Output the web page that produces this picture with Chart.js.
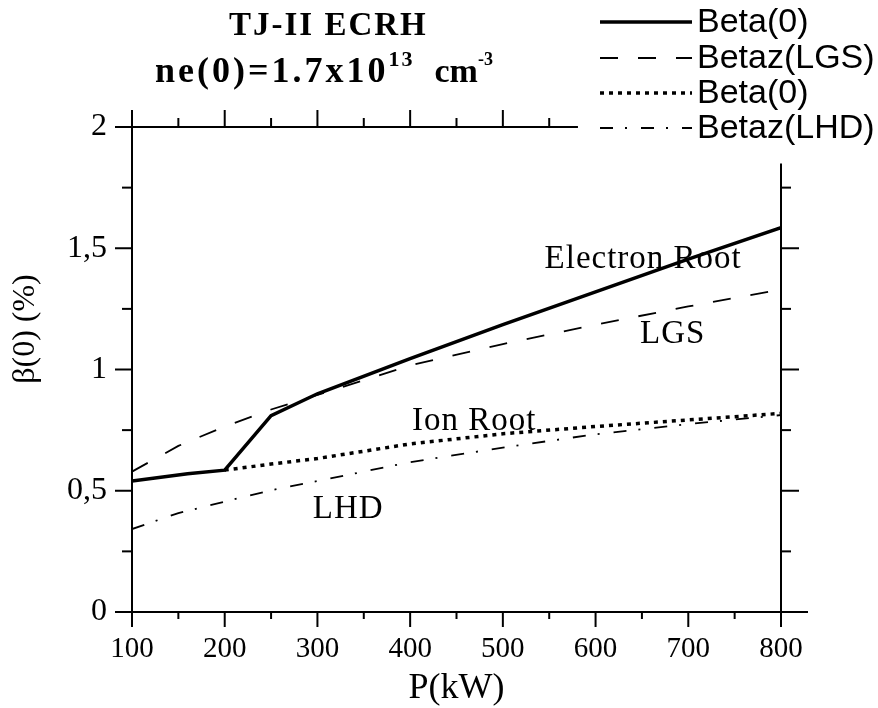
<!DOCTYPE html>
<html>
<head>
<meta charset="utf-8">
<script src="https://cdn.jsdelivr.net/npm/chart.js@4.4.0/dist/chart.umd.min.js"></script>
<style>
  html, body { margin: 0; padding: 0; background: #fff; }
  #wrap { width: 878px; height: 708px; }
</style>
</head>
<body>
<div id="wrap"><canvas id="betaChart" width="878" height="708"></canvas></div>
<script>
// P (kW) / beta(0) (%)
const electronP = [100, 160, 200, 250, 300, 400, 500, 600, 700, 800];
const electronBeta = [0.54, 0.57, 0.585, 0.81, 0.9, 1.045, 1.185, 1.32, 1.455, 1.585];

const lgsP = [100, 150, 200, 250, 300, 400, 500, 600, 700, 800];
const lgsBeta = [0.579, 0.685, 0.765, 0.835, 0.895, 1.017, 1.105, 1.185, 1.26, 1.33];

const ionP = [200, 250, 300, 400, 500, 600, 700, 800];
const ionBeta = [0.585, 0.61, 0.633, 0.693, 0.735, 0.765, 0.792, 0.819];

const lhdP = [100, 150, 200, 250, 300, 400, 500, 600, 700, 800];
const lhdBeta = [0.342, 0.408, 0.455, 0.502, 0.54, 0.618, 0.678, 0.733, 0.775, 0.812];

const seriesLabels = ['Beta(0)', 'Betaz(LGS)', 'Beta(0)', 'Betaz(LHD)'];
const xTickLabels = ['100', '200', '300', '400', '500', '600', '700', '800'];
const yTickLabels = ['0', '0,5', '1', '1,5', '2'];

const SERIF = '"Liberation Serif", "Times New Roman", serif';
const SANS = '"Liberation Sans", Arial, sans-serif';

function pts(xs, ys) {
  return xs.map((x, i) => ({ x: x, y: ys[i] }));
}

// axes frame, ticks, titles, legend and curve labels
const decor = {
  id: 'decor',
  afterDraw(chart) {
    const ctx = chart.ctx;
    const xs = chart.scales.x, ys = chart.scales.y;
    const X = v => xs.getPixelForValue(v);
    const Y = v => ys.getPixelForValue(v);
    const left = X(100), right = X(800), bot = Y(0), top = Y(2);

    ctx.save();
    ctx.strokeStyle = '#000';
    ctx.fillStyle = '#000';
    ctx.lineWidth = 2;
    const seg = (x1, y1, x2, y2) => {
      ctx.beginPath(); ctx.moveTo(x1, y1); ctx.lineTo(x2, y2); ctx.stroke();
    };

    seg(left, top - 17, left, bot + 15);
    seg(left - 17, bot, right + 27, bot);
    seg(left - 17, top, X(581), top);
    seg(right, Y(1.85), right, bot + 15);

    for (let v = 150; v <= 800; v += 50) {
      const major = v % 100 === 0;
      seg(X(v), bot, X(v), bot + (major ? 15 : 7));
    }
    for (let v = 150; v <= 550; v += 50) {
      const major = v % 100 === 0;
      seg(X(v), top, X(v), top - (major ? 17 : 9));
    }
    for (let b = 0.25; b < 2; b += 0.25) {
      const major = Math.abs(b * 2 - Math.round(b * 2)) < 1e-6;
      seg(left, Y(b), left - (major ? 17 : 10), Y(b));
      seg(right, Y(b), right + (major ? 18 : 10), Y(b));
    }

    // title
    ctx.textAlign = 'left';
    ctx.textBaseline = 'alphabetic';
    ctx.letterSpacing = '2px';
    ctx.font = 'bold 33px ' + SERIF;
    ctx.fillText('TJ-II ECRH', 229, 35);

    let x = 155;
    const part = (txt, font, dy) => {
      ctx.font = font;
      ctx.fillText(txt, x, 82 + dy);
      x += ctx.measureText(txt).width;
    };
    ctx.letterSpacing = '3px';
    part('ne(0)=1.7x10', 'bold 36px ' + SERIF, 0);
    ctx.letterSpacing = '2px';
    part('13', 'bold 22px ' + SERIF, -16);
    x += 20;
    ctx.letterSpacing = '0px';
    part('cm', 'bold 34px ' + SERIF, 0);
    part('-3', 'bold 18px ' + SERIF, -17);

    // y axis title
    ctx.save();
    ctx.translate(26, 329);
    ctx.rotate(-Math.PI / 2);
    ctx.textAlign = 'center';
    ctx.textBaseline = 'middle';
    ctx.font = '32px ' + SERIF;
    ctx.fillText('\u03b2(0) (%)', 0, 0);
    ctx.restore();

    // curve labels
    ctx.font = '33px ' + SERIF;
    ctx.letterSpacing = '1px';
    ctx.fillText('Electron Root', X(545), Y(1.419));
    ctx.fillText('LGS', X(648), Y(1.109));
    ctx.fillText('Ion Root', X(402), Y(0.75));
    ctx.fillText('LHD', X(295), Y(0.388));

    // legend
    ctx.letterSpacing = '0px';
    ctx.font = '34px ' + SANS;
    ctx.textBaseline = 'middle';
    const rowY = [22, 58, 93, 128];
    chart.data.datasets.forEach((ds, i) => {
      ctx.save();
      ctx.lineWidth = ds.borderWidth;
      ctx.setLineDash(ds.borderDash || []);
      seg(600, rowY[i], 692, rowY[i]);
      ctx.restore();
      ctx.fillText(ds.label, 697, rowY[i] + 1);
    });
    ctx.restore();
  }
};

new Chart(document.getElementById('betaChart').getContext('2d'), {
  type: 'line',
  data: {
    datasets: [
      { label: seriesLabels[0], data: pts(electronP, electronBeta), borderColor: '#000',
        borderWidth: 3.5, borderDash: [], pointRadius: 0, fill: false },
      { label: seriesLabels[1], data: pts(lgsP, lgsBeta), borderColor: '#000',
        borderWidth: 1.8, borderDash: [18, 20], pointRadius: 0, fill: false },
      { label: seriesLabels[2], data: pts(ionP, ionBeta), borderColor: '#000',
        borderWidth: 3.5, borderDash: [4, 5], pointRadius: 0, fill: false },
      { label: seriesLabels[3], data: pts(lhdP, lhdBeta), borderColor: '#000',
        borderWidth: 1.8, borderDash: [13, 12, 2, 14], pointRadius: 0, fill: false }
    ]
  },
  options: {
    responsive: false,
    animation: false,
    devicePixelRatio: 1,
    layout: { padding: { top: 127, right: 97, left: 0, bottom: 0 } },
    plugins: {
      legend: { display: false },
      title: { display: false },
      tooltip: { enabled: false }
    },
    scales: {
      x: {
        type: 'linear', min: 100, max: 800,
        afterFit(s) { s.height = 96; },
        grid: { display: false, drawTicks: false },
        border: { display: false },
        ticks: {
          stepSize: 100, padding: 20, color: '#000', maxRotation: 0, autoSkip: false,
          font: { family: SERIF, size: 29 },
          callback: (v, i) => xTickLabels[i]
        },
        title: {
          display: true, text: 'P(kW)', color: '#000',
          font: { family: SERIF, size: 36 }, padding: { top: 0, bottom: -2 }
        }
      },
      y: {
        type: 'linear', min: 0, max: 2,
        afterFit(s) { s.width = 132; },
        grid: { display: false, drawTicks: false },
        border: { display: false },
        ticks: {
          stepSize: 0.5, padding: 25, color: '#000',
          font: { family: SERIF, size: 32 },
          callback: (v, i) => yTickLabels[i]
        }
      }
    }
  },
  plugins: [decor]
});
</script>
</body>
</html>
